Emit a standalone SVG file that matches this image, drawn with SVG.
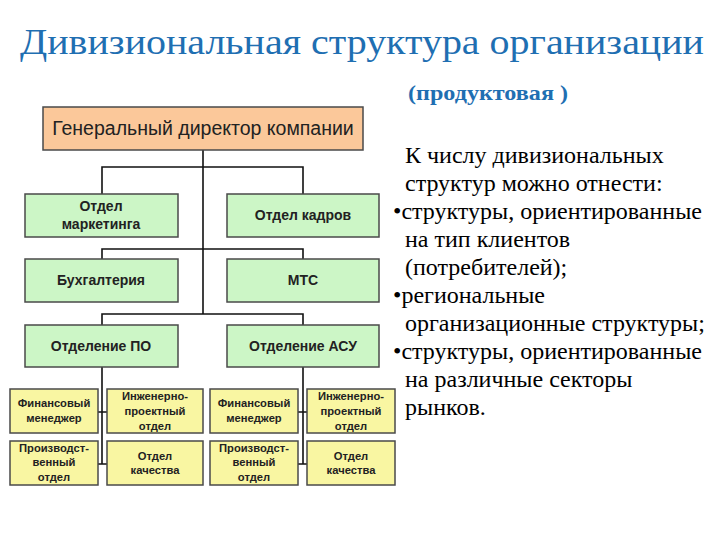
<svg xmlns="http://www.w3.org/2000/svg" width="720" height="540" viewBox="0 0 720 540">
<style>
.box{stroke:#4a4a4a;stroke-width:1.5}
.top{fill:#fbc89a}
.gr{fill:#ccf6c6}
.ye{fill:#f9f6a2}
.ln{stroke:#111;stroke-width:1.6;fill:none}
.t1{font-family:'Liberation Sans',Arial,sans-serif;font-size:19.5px;fill:#222;text-anchor:middle}
.t2{font-family:'Liberation Sans',Arial,sans-serif;font-size:14px;font-weight:bold;fill:#222;text-anchor:middle}
.t3{font-family:'Liberation Sans',Arial,sans-serif;font-size:11.2px;font-weight:bold;fill:#222;text-anchor:middle}
.serif{font-family:'Liberation Serif','DejaVu Serif',serif}
.body{font-size:24px;fill:#000}
</style>
<rect width="720" height="540" fill="#fff"/>
<text class="serif" x="362" y="54" text-anchor="middle" font-size="35" fill="#1f6fb2" textLength="684" lengthAdjust="spacingAndGlyphs">Дивизиональная структура организации</text>
<text class="serif" x="408" y="100" font-size="21" font-weight="bold" fill="#1f6fb2" textLength="160" lengthAdjust="spacingAndGlyphs">(продуктовая )</text>
<g id="connectors">
<path class="ln" d="M203 150V314M102 194V167H303V194M102 259V249H303V259M102 325V314H303V325"/>
<path class="ln" d="M102 367V464M98 412H107M98 464H107"/>
<path class="ln" d="M303 367V464M298 412H307M298 464H307"/>
</g>
<g id="n-director"><rect class="box top" x="43" y="107" width="320" height="43"/><text class="t1" x="203" y="135">Генеральный директор компании</text></g>
<g id="n-marketing"><rect class="box gr" x="25" y="194" width="153" height="43"/><text class="t2" x="101" y="211">Отдел</text><text class="t2" x="101" y="229">маркетинга</text></g>
<g id="n-kadry"><rect class="box gr" x="227" y="194" width="152" height="43"/><text class="t2" x="303" y="220">Отдел кадров</text></g>
<g id="n-buh"><rect class="box gr" x="25" y="259" width="153" height="43"/><text class="t2" x="101" y="285">Бухгалтерия</text></g>
<g id="n-mts"><rect class="box gr" x="227" y="259" width="152" height="43"/><text class="t2" x="303" y="285">МТС</text></g>
<g id="n-po"><rect class="box gr" x="25" y="325" width="153" height="42"/><text class="t2" x="101" y="351">Отделение ПО</text></g>
<g id="n-asu"><rect class="box gr" x="227" y="325" width="152" height="42"/><text class="t2" x="303" y="351">Отделение АСУ</text></g>
<g id="n-fin1"><rect class="box ye" x="10" y="389" width="88" height="44"/><text class="t3" x="54" y="407">Финансовый</text><text class="t3" x="54" y="422">менеджер</text></g>
<g id="n-eng1"><rect class="box ye" x="107" y="389" width="96" height="44"/><text class="t3" x="155" y="400">Инженерно-</text><text class="t3" x="155" y="415">проектный</text><text class="t3" x="155" y="430">отдел</text></g>
<g id="n-prod1"><rect class="box ye" x="10" y="441" width="88" height="44"/><text class="t3" x="54" y="452">Производст-</text><text class="t3" x="54" y="466">венный</text><text class="t3" x="54" y="481">отдел</text></g>
<g id="n-qual1"><rect class="box ye" x="107" y="441" width="96" height="44"/><text class="t3" x="155" y="460">Отдел</text><text class="t3" x="155" y="474">качества</text></g>
<g id="n-fin2"><rect class="box ye" x="210" y="389" width="88" height="44"/><text class="t3" x="254" y="407">Финансовый</text><text class="t3" x="254" y="422">менеджер</text></g>
<g id="n-eng2"><rect class="box ye" x="307" y="389" width="88" height="44"/><text class="t3" x="351" y="400">Инженерно-</text><text class="t3" x="351" y="415">проектный</text><text class="t3" x="351" y="430">отдел</text></g>
<g id="n-prod2"><rect class="box ye" x="210" y="441" width="88" height="44"/><text class="t3" x="254" y="452">Производст-</text><text class="t3" x="254" y="466">венный</text><text class="t3" x="254" y="481">отдел</text></g>
<g id="n-qual2"><rect class="box ye" x="307" y="441" width="88" height="44"/><text class="t3" x="351" y="460">Отдел</text><text class="t3" x="351" y="474">качества</text></g>
<g id="text" class="serif body">
<text x="405" y="163">К числу дивизиональных</text>
<text x="405" y="191">структур можно отнести:</text>
<text x="393" y="219">•структуры, ориентированные</text>
<text x="405" y="247">на тип клиентов</text>
<text x="405" y="275">(потребителей);</text>
<text x="393" y="303">•региональные</text>
<text x="405" y="331">организационные структуры;</text>
<text x="393" y="359">•структуры, ориентированные</text>
<text x="405" y="387">на различные секторы</text>
<text x="405" y="415">рынков.</text>
</g>
</svg>
